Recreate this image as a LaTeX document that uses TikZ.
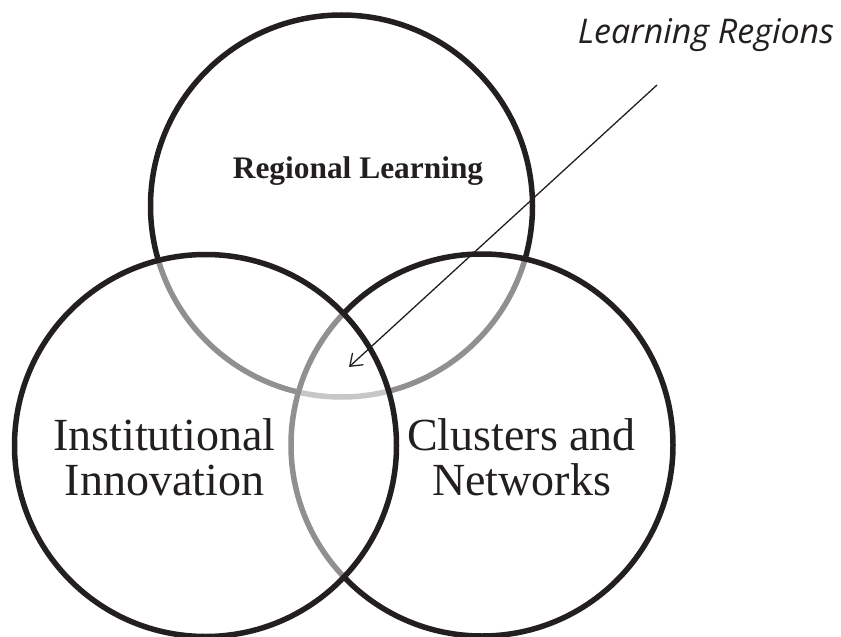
\documentclass[tikz,border=0pt]{standalone}
\usepackage{fontspec}
\setmainfont{Liberation Serif}
\newfontfamily\lrfont{Open Sans}
\usetikzlibrary{arrows.meta}

\definecolor{ink}{HTML}{231F20}

\tikzset{
  ring/.style={circle, draw=ink, line width=5.5pt, minimum size=382pt,
    inner sep=0pt, fill=white, fill opacity=0.5},
  bigtext/.style={align=center, text=ink,
    font=\fontsize{46}{45}\selectfont},
  pointer/.style={draw=ink, line width=1.3pt,
    -{Straight Barb[length=11pt,width=16pt]}}
}

\begin{document}
\begin{tikzpicture}[x=1pt,y=-1pt]
    \useasboundingbox (0,0) rectangle (841,637);

    % the three sets, back to front
    \node[ring, fill opacity=0] (RL) at (341.5,206) {};
    \node[ring] (CN) at (482,445) {};
    \node[ring] (II) at (205.5,445.5) {};

    % labels (base = last line)
    \node[anchor=base, text=ink, font=\fontsize{31.4}{34}\selectfont\bfseries]
        (rltext) at (358,178) {Regional Learning};
    \node[bigtext, anchor=base] (iitext) at (164.5,495) {Institutional\\Innovation};
    \node[bigtext, anchor=base] (cntext) at (521.5,495) {Clusters and\\Networks};
    \node[anchor=base, text=ink, font=\fontsize{34}{36}\selectfont\lrfont\itshape]
        (lrtext) at (706,43) {Learning Regions};

    % pointer into the middle
    \coordinate (tail) at (657,85);
    \coordinate (tip) at (349,367);
    \draw[pointer] (tail) -- (tip);
\end{tikzpicture}
\end{document}
